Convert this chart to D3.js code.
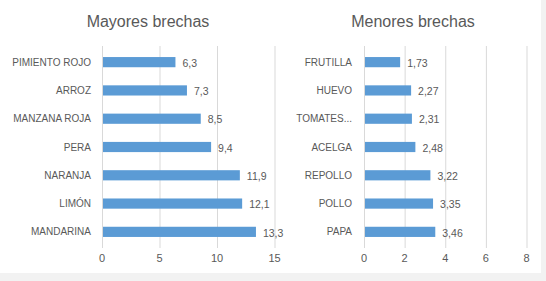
<!DOCTYPE html>
<html>
<head>
<meta charset="utf-8">
<script src="https://cdn.jsdelivr.net/npm/d3@7"></script>
<style>
  body { margin: 0; background: #f2f2f2; }
  svg { display: block; font-family: "Liberation Sans", Arial, sans-serif; }
</style>
</head>
<body>
<div id="chart-area"></div>
<script>
// data
const mayoresCats = ["PIMIENTO ROJO", "ARROZ", "MANZANA ROJA", "PERA", "NARANJA", "LIMÓN", "MANDARINA"];
const mayoresVals = [6.3, 7.3, 8.5, 9.4, 11.9, 12.1, 13.3];
const mayoresTicks = [0, 5, 10, 15];

const menoresCats = ["FRUTILLA", "HUEVO", "TOMATES...", "ACELGA", "REPOLLO", "POLLO", "PAPA"];
const menoresVals = [1.73, 2.27, 2.31, 2.48, 3.22, 3.35, 3.46];
const menoresTicks = [0, 2, 4, 6, 8];

const W = 546, H = 281;
const esLocale = d3.formatLocale({ decimal: ",", thousands: ".", grouping: [3], currency: ["$", ""] });

var svg = d3.select("#chart-area")
	.append("svg")
	.attr("width", W)
	.attr("height", H);

svg.append("rect")
	.attr("width", 541)
	.attr("height", 273)
	.attr("fill", "#ffffff");

function drawPanel(opts) {
	var g = svg.append("g");

	var x = d3.scaleLinear()
		.domain([0, opts.ticks[opts.ticks.length - 1]])
		.range([opts.x0, opts.x1]);

	var y = d3.scaleBand()
		.domain(opts.cats)
		.range([48, 246])
		.paddingInner(0.64)
		.paddingOuter(0.32);

	// gridlines
	g.selectAll("line.grid")
		.data(opts.ticks)
		.enter().append("line")
		.attr("class", "grid")
		.attr("x1", d => x(d) + 0.5)
		.attr("x2", d => x(d) + 0.5)
		.attr("y1", 46)
		.attr("y2", 248)
		.attr("stroke", "#d9d9d9")
		.attr("stroke-width", 1);

	// tick labels
	g.selectAll("text.tick")
		.data(opts.ticks)
		.enter().append("text")
		.attr("class", "tick")
		.attr("x", d => x(d))
		.attr("y", 262)
		.attr("text-anchor", "middle")
		.attr("font-size", "11px")
		.attr("fill", "#595959")
		.text(d => d);

	var rows = opts.cats.map((c, i) => ({ cat: c, val: opts.vals[i] }));

	g.selectAll("rect.bar")
		.data(rows)
		.enter().append("rect")
		.attr("class", "bar")
		.attr("x", x(0) + 1)
		.attr("y", d => y(d.cat))
		.attr("width", d => x(d.val) - x(0))
		.attr("height", y.bandwidth())
		.attr("fill", "#5b9bd5");

	// category labels
	g.selectAll("text.cat")
		.data(rows)
		.enter().append("text")
		.attr("class", "cat")
		.attr("x", opts.labelX)
		.attr("y", d => y(d.cat) + y.bandwidth() / 2)
		.attr("dy", "0.35em")
		.attr("text-anchor", "end")
		.attr("font-size", "10px")
		.attr("fill", "#595959")
		.text(d => d.cat);

	// value labels
	g.selectAll("text.val")
		.data(rows)
		.enter().append("text")
		.attr("class", "val")
		.attr("x", d => x(d.val) + 8)
		.attr("y", d => y(d.cat) + y.bandwidth() / 2)
		.attr("dy", "0.45em")
		.attr("font-size", "10.5px")
		.attr("fill", "#595959")
		.text(d => esLocale.format(opts.fmt)(d.val));

	g.append("text")
		.attr("x", opts.titleX)
		.attr("y", 27)
		.attr("text-anchor", "middle")
		.attr("font-size", "16px")
		.attr("fill", "#595959")
		.text(opts.title);
}

drawPanel({ title: "Mayores brechas", titleX: 148, cats: mayoresCats, vals: mayoresVals, ticks: mayoresTicks,
	x0: 102, x1: 274.5, labelX: 91, fmt: ".1f" });
drawPanel({ title: "Menores brechas", titleX: 413, cats: menoresCats, vals: menoresVals, ticks: menoresTicks,
	x0: 364, x1: 526.5, labelX: 352, fmt: ".2f" });
</script>
</body>
</html>
